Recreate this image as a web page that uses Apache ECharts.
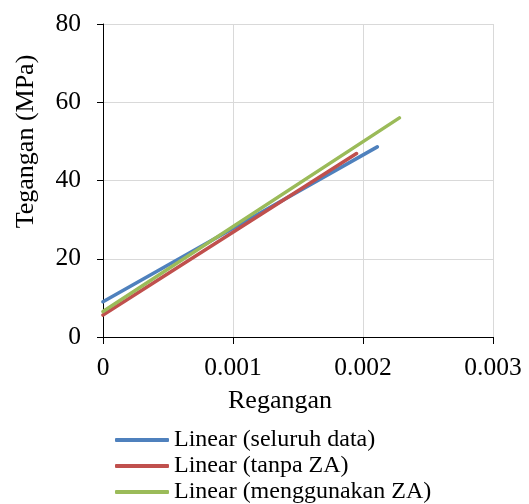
<!DOCTYPE html>
<html><head><meta charset="utf-8">
<script src="https://cdn.jsdelivr.net/npm/echarts@6/dist/echarts.min.js"></script>
<style>html,body{margin:0;padding:0;background:#fff}#c{width:529px;height:504px}</style>
</head><body><div id="c"></div>
<script>
var seriesNames = ['Linear (seluruh data)', 'Linear (tanpa ZA)', 'Linear (menggunakan ZA)'];
var seluruhData = [[0, 9.0], [0.00211, 48.6]];
var tanpaZA = [[0, 5.6], [0.00195, 46.9]];
var menggunakanZA = [[0, 6.5], [0.00228, 56.0]];
var colors = ['#4f81bd', '#c0504d', '#9bbb59'];
var xTicks = [0, 0.001, 0.002, 0.003];
var yTicks = [0, 20, 40, 60, 80];
var font = '"Liberation Serif", "Times New Roman", serif';
var chart = echarts.init(document.getElementById('c'));
var datasets = [seluruhData, tanpaZA, menggunakanZA];
chart.setOption({
  animation: false,
  textStyle: {fontFamily: font},
  grid: {left: 103, right: 36, top: 24, bottom: 167, containLabel: false},
  legend: {
    orient: 'vertical', left: 115, top: 428, itemWidth: 54, itemHeight: 4, itemGap: 2,
    padding: 0, icon: 'roundRect',
    textStyle: {fontFamily: font, fontSize: 24, color: '#000'},
    data: seriesNames
  },
  xAxis: {
    type: 'value', min: 0, max: 0.003, interval: 0.001,
    name: 'Regangan', nameLocation: 'middle', nameGap: 51,
    nameTextStyle: {fontFamily: font, fontSize: 26, color: '#000', padding: [0, 36, 0, 0]},
    axisLine: {show: true, onZero: false, lineStyle: {color: '#000', width: 1}},
    axisTick: {show: true, length: 7, lineStyle: {color: '#000'}},
    axisLabel: {fontFamily: font, fontSize: 25.5, color: '#000', margin: 18,
      formatter: function(v){ var r = Math.round(v*1000)/1000; return xTicks.indexOf(r) >= 0 ? String(r) : ''; }},
    splitLine: {show: true, lineStyle: {color: '#d9d9d9', width: 1}}
  },
  yAxis: {
    type: 'value', min: 0, max: 80, interval: 20,
    name: 'Tegangan (MPa)', nameLocation: 'middle', nameGap: 64, nameRotate: 90,
    nameTextStyle: {fontFamily: font, fontSize: 26, color: '#000', padding: [0, 0, 0, 78]},
    axisLine: {show: true, lineStyle: {color: '#000', width: 1}},
    axisTick: {show: true, length: 6, lineStyle: {color: '#000'}},
    axisLabel: {fontFamily: font, fontSize: 25.5, color: '#000', margin: 22,
      formatter: function(v){ return yTicks.indexOf(v) >= 0 ? String(v) : ''; }},
    splitLine: {show: true, lineStyle: {color: '#d9d9d9', width: 1}}
  },
  series: seriesNames.map(function(n, i){
    return {name: n, type: 'line', data: datasets[i], showSymbol: false, symbol: 'none',
      itemStyle: {color: colors[i]},
      lineStyle: {color: colors[i], width: 3.5, cap: 'round'}};
  })
});
</script></body></html>
